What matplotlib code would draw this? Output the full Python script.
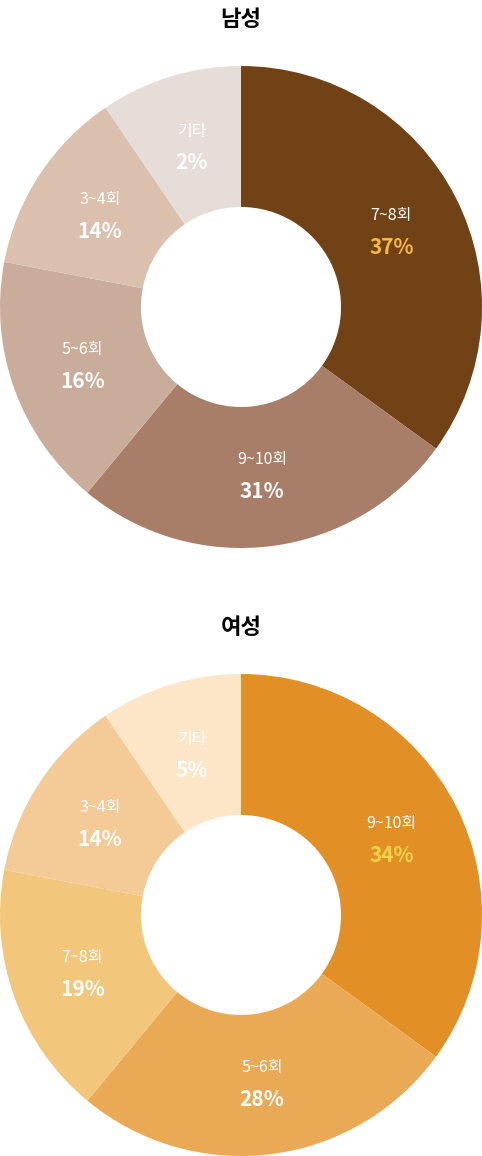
import matplotlib
matplotlib.use("Agg")
import matplotlib.pyplot as plt
import numpy as np

plt.rcParams['font.family'] = ['Noto Sans CJK KR', 'DejaVu Sans']

titles = ["남성", "여성"]
men_labels = ["7~8회", "9~10회", "5~6회", "3~4회", "기타"]
men_pct = ["37%", "31%", "16%", "14%", "2%"]
men_share = [35, 26, 17, 12.5, 9.5]
women_labels = ["9~10회", "5~6회", "7~8회", "3~4회", "기타"]
women_pct = ["34%", "28%", "19%", "14%", "5%"]
women_share = [35, 26, 17, 12.5, 9.5]
men_colors = ["#714215", "#a87e68", "#c9ad9a", "#dac0ad", "#e6dcd8"]
women_colors = ["#e28f25", "#eaa955", "#f2c77b", "#f4ca96", "#fde6c8"]
highlight = ["#f7b84b", "#f7d54a"]

fig = plt.figure(figsize=(4.82, 11.56), dpi=100)
W, H = 482, 1156
specs = [(men_labels, men_pct, men_share, men_colors, 66, 20),
         (women_labels, women_pct, women_share, women_colors, 674, 627)]
for i, (labs, pcts, vals, cols, top, ty) in enumerate(specs):
    ax = fig.add_axes([0, (H - top - 482) / H, 1, 482 / H])
    wedges, _ = ax.pie(vals, colors=cols, startangle=90, counterclock=False,
                       radius=1, wedgeprops=dict(width=0.585, linewidth=0))
    ax.set_xlim(-1, 1); ax.set_ylim(-1, 1); ax.set_aspect('equal'); ax.axis('off')
    for j, w in enumerate(wedges):
        ang = np.deg2rad((w.theta1 + w.theta2) / 2)
        r = 0.7
        x, y = r * np.cos(ang), r * np.sin(ang)
        ax.text(x, y + 0.06, labs[j], ha='center', va='center', fontsize=11.5, color='white')
        ax.text(x, y - 0.07, pcts[j], ha='center', va='center', fontsize=15, fontweight='bold',
                color=highlight[i] if j == 0 else 'white')
    fig.text(0.5, 1 - ty / H, titles[i], ha='center', va='center', fontsize=16, fontweight='bold', color='black')

fig.savefig("out.png", dpi=100)
